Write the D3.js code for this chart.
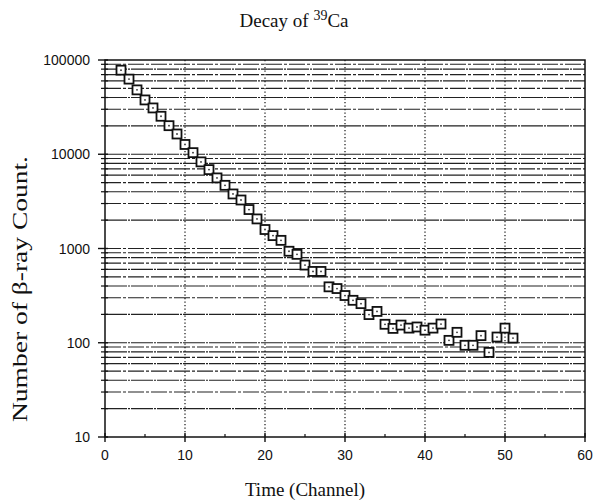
<!DOCTYPE html>
<html>
  <head>
    <meta charset="utf-8">
    <script src="https://d3js.org/d3.v7.min.js"></script>
    <style>
      body {
        margin: 0;
        background: #fff;
      }
      .tick-label {
        font-family: "Liberation Sans", Arial, sans-serif;
        font-size: 14px;
        fill: #111;
      }
      .serif {
        font-family: "Liberation Serif", "Times New Roman", serif;
        fill: #111;
      }
    </style>
  </head>
<body>
  <script type="text/javascript">
    /*
      Data
    */
    var channels = [2, 3, 4, 5, 6, 7, 8, 9, 10, 11,
                    12, 13, 14, 15, 16, 17, 18, 19, 20, 21,
                    22, 23, 24, 25, 26, 27, 28, 29, 30, 31,
                    32, 33, 34, 35, 36, 37, 38, 39, 40, 41,
                    42, 43, 44, 45, 46, 47, 48, 49, 50, 51];
    var counts = [78000, 62700, 48200, 37700, 31000, 25300, 20100, 16400, 12700, 10400,
                  8300, 6870, 5610, 4680, 3790, 3270, 2590, 2060, 1590, 1370,
                  1220, 935, 867, 667, 571, 571, 392, 376, 317, 282,
                  260, 199, 215, 157, 142, 154, 143, 147, 136, 143,
                  158, 106, 129, 94, 94, 119, 79, 115, 143, 112];
    var xTicks = [0, 10, 20, 30, 40, 50, 60];
    var xMinorTicks = [5, 15, 25, 35, 45, 55];
    var yTicks = [10, 100, 1000, 10000, 100000];
    var yMultiples = [2, 3, 4, 5, 6, 7, 8, 9];

    var W = 604, H = 504;
    var margin = {top: 60, right: 19, bottom: 67, left: 105};
    var width = W - margin.left - margin.right,
        height = H - margin.top - margin.bottom;

    var svg = d3.select("body")
        .append("svg")
        .attr("width", W)
        .attr("height", H);

    var g = svg.append("g")
        .attr("transform", "translate(" + margin.left + "," + margin.top + ")");

    var x = d3.scaleLinear().domain([0, 60]).range([0, width]);
    var y = d3.scaleLog().domain([10, 100000]).range([height, 0]);

    // minor values for each decade
    var yMinor = [];
    yTicks.slice(0, -1).forEach(function(d) {
      yMultiples.forEach(function(m) { yMinor.push(d * m); });
    });

    /*
      Gridlines: dash-dot horizontals, dotted verticals
    */
    g.selectAll("line.hgrid")
        .data(yMinor.concat(yTicks.slice(1, -1)))
        .enter().append("line")
        .attr("class", "hgrid")
        .attr("x1", 0).attr("x2", width)
        .attr("y1", function(d) { return y(d); })
        .attr("y2", function(d) { return y(d); })
        .attr("stroke", "#222")
        .attr("stroke-width", 1.1)
        .attr("stroke-dasharray", function(d, i) { return i % 2 ? "16,2,3,2" : "22,1,2,1"; });

    g.selectAll("line.vgrid")
        .data(xTicks.slice(1, -1))
        .enter().append("line")
        .attr("class", "vgrid")
        .attr("x1", function(d) { return x(d); })
        .attr("x2", function(d) { return x(d); })
        .attr("y1", 0).attr("y2", height)
        .attr("stroke", "#111")
        .attr("stroke-width", 1.2)
        .attr("stroke-dasharray", "1.2,2.3");

    /*
      Frame
    */
    g.append("rect")
        .attr("width", width)
        .attr("height", height)
        .attr("fill", "none")
        .attr("stroke", "#111")
        .attr("stroke-width", 1.5);

    /*
      Axes
    */
    var yAxis = g.append("g");
    yAxis.selectAll("line.ymaj")
        .data(yTicks).enter().append("line")
        .attr("x1", -7).attr("x2", 3)
        .attr("y1", function(d) { return y(d); })
        .attr("y2", function(d) { return y(d); })
        .attr("stroke", "#111").attr("stroke-width", 1.4);
    yAxis.selectAll("line.ymin")
        .data(yMinor).enter().append("line")
        .attr("x1", -4).attr("x2", 3)
        .attr("y1", function(d) { return y(d); })
        .attr("y2", function(d) { return y(d); })
        .attr("stroke", "#111").attr("stroke-width", 1.2);
    yAxis.selectAll("text")
        .data(yTicks).enter().append("text")
        .attr("class", "tick-label")
        .attr("x", -15)
        .attr("y", function(d) { return y(d); })
        .attr("dy", "0.36em")
        .attr("text-anchor", "end")
        .text(function(d) { return d; });

    var xAxis = g.append("g").attr("transform", "translate(0," + height + ")");
    xAxis.selectAll("line.xmaj")
        .data(xTicks).enter().append("line")
        .attr("x1", function(d) { return x(d); })
        .attr("x2", function(d) { return x(d); })
        .attr("y1", -4).attr("y2", 5)
        .attr("stroke", "#111").attr("stroke-width", 1.4);
    xAxis.selectAll("line.xmin")
        .data(xMinorTicks).enter().append("line")
        .attr("x1", function(d) { return x(d); })
        .attr("x2", function(d) { return x(d); })
        .attr("y1", -3).attr("y2", 0)
        .attr("stroke", "#111").attr("stroke-width", 1.2);
    xAxis.selectAll("text")
        .data(xTicks).enter().append("text")
        .attr("class", "tick-label")
        .attr("x", function(d) { return x(d); })
        .attr("y", 23)
        .attr("text-anchor", "middle")
        .text(function(d) { return d; });

    /*
      Points: open squares with a centre dot
    */
    var pts = g.selectAll("g.pt")
        .data(channels.map(function(c, i) { return {c: c, n: counts[i]}; }))
        .enter().append("g")
        .attr("transform", function(d) { return "translate(" + x(d.c) + "," + y(d.n) + ")"; });
    pts.append("rect")
        .attr("x", -4.5).attr("y", -4.5)
        .attr("width", 9).attr("height", 9)
        .attr("fill", "#fff")
        .attr("stroke", "#111")
        .attr("stroke-width", 1.8);
    pts.append("circle")
        .attr("r", 0.9)
        .attr("fill", "#333");

    /*
      Titles
    */
    var title = svg.append("text")
        .attr("class", "serif")
        .attr("x", 294)
        .attr("y", 27)
        .attr("text-anchor", "middle")
        .style("font-size", "19px");
    title.append("tspan").text("Decay of ");
    title.append("tspan").attr("dy", -7).style("font-size", "14px").text("39");
    title.append("tspan").attr("dy", 7).text("Ca");

    svg.append("text")
        .attr("class", "serif")
        .attr("x", 305)
        .attr("y", 496)
        .attr("text-anchor", "middle")
        .style("font-size", "19px")
        .text("Time (Channel)");

    svg.append("text")
        .attr("class", "serif")
        .attr("transform", "translate(27,289) rotate(-90)")
        .attr("text-anchor", "middle")
        .attr("textLength", 266)
        .attr("lengthAdjust", "spacingAndGlyphs")
        .style("font-size", "21px")
        .text("Number of \u03b2-ray Count.");
  </script>
</body>
</html>
